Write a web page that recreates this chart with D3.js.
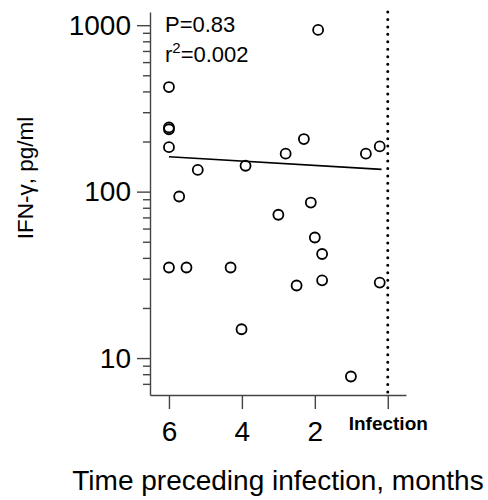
<!DOCTYPE html>
<html>
<head>
<meta charset="utf-8">
<script src="https://cdn.jsdelivr.net/npm/d3@7"></script>
<style>
  body { margin: 0; background: #fff; }
  svg { font-family: Arial, "Liberation Sans", sans-serif; }
</style>
</head>
<body>
<div id="chart"></div>
<script>
// months before infection
const months = [6.0, 6.0, 6.0, 6.0, 6.0, 5.72, 5.52, 5.21, 4.31, 4.01, 3.9, 3.0, 2.8, 2.5, 2.3, 2.11, 2.0, 1.91, 1.8, 1.8, 1.01, 0.6, 0.22, 0.22]
// IFN-gamma, pg/ml
const ifng = [425, 243, 237, 185, 35, 93.5, 35, 135, 35, 14.9, 143, 72.6, 169, 27.3, 207, 86, 53, 937, 42.2, 29.3, 7.75, 169, 187, 28.4]
// regression line ends
const fitX = [6, 0.17]
const fitY = [162, 136]
const xTicks = [6, 4, 2, 0]
const yMajor = [10, 100, 1000]
const yMinor = [7, 8, 9, 20, 30, 40, 50, 60, 70, 80, 90, 200, 300, 400, 500, 600, 700, 800, 900]

const width = 488
const height = 500
const plotL = 150, plotR = 406, plotT = 12, plotB = 395

const svg = d3.select('#chart')
  .append('svg')
  .attr('width', width)
  .attr('height', height)

const x = d3.scaleLinear().domain([6.52, -0.5]).range([plotL, plotR])
const y = d3.scaleLog().domain([6, 1200]).range([plotB, plotT])

const axisColor = '#444'

// y axis minor ticks
const yMin = svg.append('g')
  .attr('transform', `translate(${plotL},0)`)
  .call(d3.axisLeft(y).tickValues(yMinor).tickSize(7).tickSizeOuter(0).tickFormat(''))
yMin.select('.domain').remove()

// y axis major
const yAx = svg.append('g')
  .attr('transform', `translate(${plotL},0)`)
  .call(d3.axisLeft(y).tickValues(yMajor).tickSize(13).tickSizeOuter(0).tickPadding(6).tickFormat(d3.format('d')))
yAx.selectAll('text').attr('font-size', 28).attr('fill', '#000')

// x axis
const xAx = svg.append('g')
  .attr('transform', `translate(0,${plotB})`)
  .call(d3.axisBottom(x).tickValues(xTicks).tickSize(14).tickSizeOuter(0).tickPadding(12)
    .tickFormat(d => d === 0 ? 'Infection' : d))
xAx.selectAll('text')
  .attr('font-size', d => d === 0 ? 19 : 28)
  .attr('font-weight', d => d === 0 ? 'bold' : 'normal')
  .attr('dy', d => d === 0 ? '0.45em' : '0.71em')
  .attr('fill', '#000')

svg.selectAll('.domain, .tick line').attr('stroke', axisColor).attr('stroke-width', 1.4)

// infection line
svg.append('line')
  .attr('x1', x(0)).attr('x2', x(0))
  .attr('y1', y(1200)).attr('y2', plotB)
  .attr('stroke', '#000')
  .attr('stroke-width', 3)
  .attr('stroke-linecap', 'round')
  .attr('stroke-dasharray', '0 7.45')

// regression line
svg.append('line')
  .attr('x1', x(fitX[0])).attr('y1', y(fitY[0]))
  .attr('x2', x(fitX[1])).attr('y2', y(fitY[1]))
  .attr('stroke', '#000')
  .attr('stroke-width', 1.6)

// points
svg.append('g')
  .selectAll('circle')
  .data(months.map((m, i) => [m, ifng[i]]))
  .enter()
  .append('circle')
  .attr('cx', d => x(d[0]))
  .attr('cy', d => y(d[1]))
  .attr('r', 5)
  .attr('fill', 'none')
  .attr('stroke', '#000')
  .attr('stroke-width', 1.8)

// stats
svg.append('text')
  .attr('x', 165).attr('y', 32)
  .attr('font-size', 22)
  .text('P=0.83')
const r2 = svg.append('text')
  .attr('x', 165).attr('y', 62)
  .attr('font-size', 22)
r2.append('tspan').text('r')
r2.append('tspan').attr('font-size', 15).attr('dy', -9).text('2')
r2.append('tspan').attr('dy', 9).text('=0.002')

// axis titles
svg.append('text')
  .attr('transform', `translate(33,178) rotate(-90)`)
  .attr('text-anchor', 'middle')
  .attr('font-size', 22.5)
  .text('IFN-γ, pg/ml')

svg.append('text')
  .attr('x', 278).attr('y', 490)
  .attr('text-anchor', 'middle')
  .attr('font-size', 28)
  .text('Time preceding infection, months')
</script>
</body>
</html>
